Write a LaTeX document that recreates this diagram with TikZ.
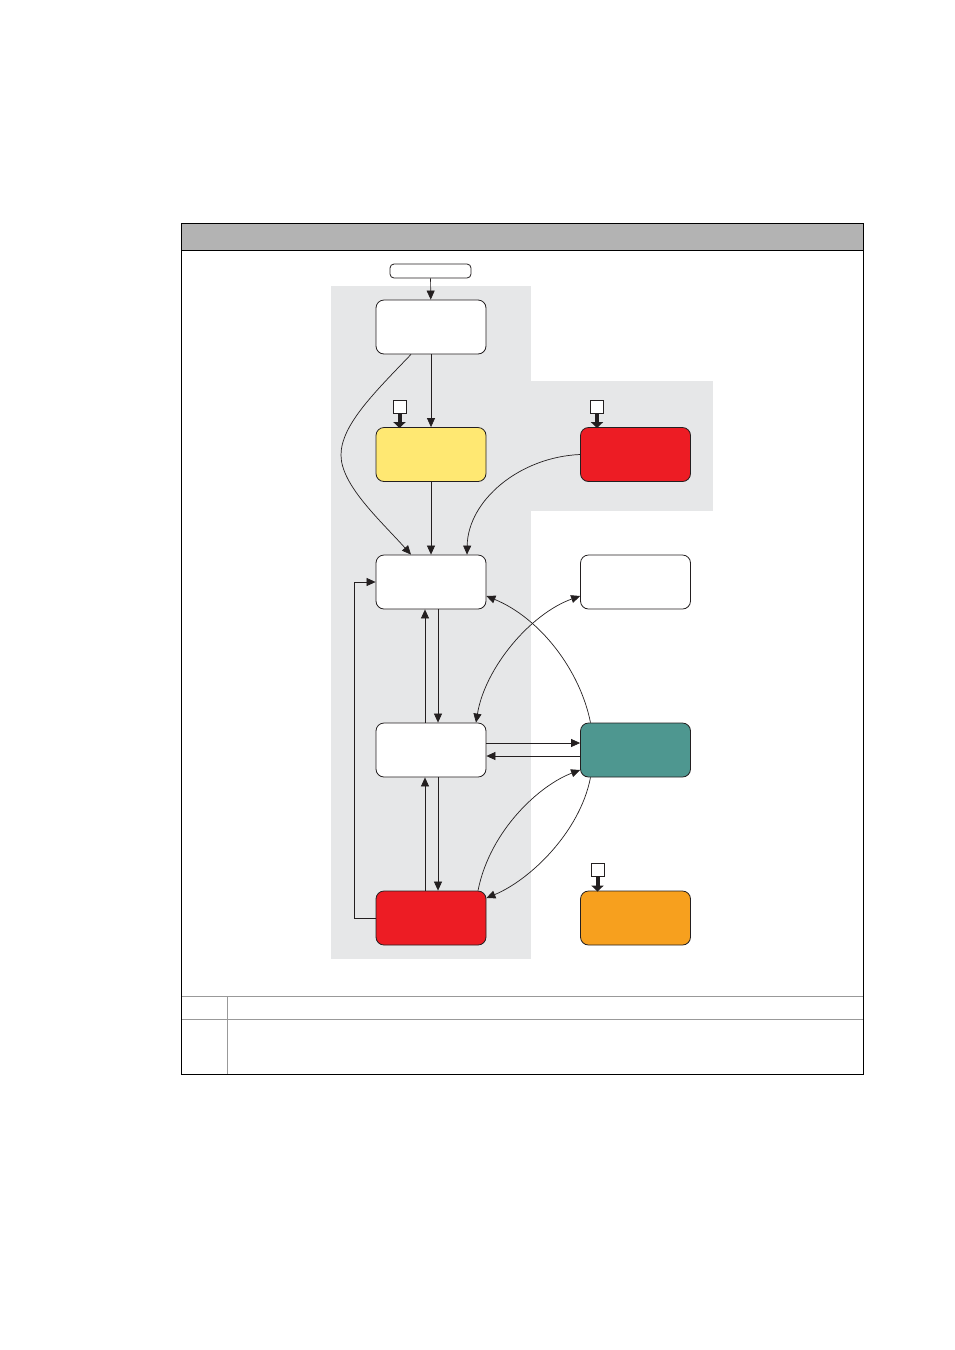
\documentclass[tikz,border=0pt]{standalone}
\usetikzlibrary{arrows.meta,calc}
\definecolor{zone}{HTML}{E6E7E8}
\definecolor{header}{HTML}{B3B3B3}
\definecolor{ylw}{HTML}{FFE872}
\definecolor{rd}{HTML}{ED1C24}
\definecolor{tl}{HTML}{4E9790}
\definecolor{org}{HTML}{F7A01E}
\definecolor{ink}{HTML}{231F20}
\tikzset{
  statebox/.style={draw=ink,line width=0.8pt,rounded corners=8pt,minimum width=110pt,minimum height=54pt,inner sep=0pt,fill=white},
  startbox/.style={draw=ink,line width=0.8pt,rounded corners=4pt,minimum width=81pt,minimum height=14pt,inner sep=0pt,fill=white},
  trig/.style={draw=ink,line width=0.8pt,minimum width=13pt,minimum height=13pt,inner sep=0pt,fill=white},
  conn/.style={draw=ink,line width=0.7pt,-{Triangle[length=9pt,width=8pt]}},
  conn2/.style={draw=ink,line width=0.7pt,{Triangle[length=9pt,width=8pt]}-{Triangle[length=9pt,width=8pt]}},
  fat/.style={draw=ink,line width=4pt,-{Triangle[length=6pt,width=12pt]},shorten >=-1pt},
  grid/.style={draw=gray!80,line width=0.8pt}
}
\begin{document}
\begin{tikzpicture}[x=1pt,y=-1pt]
\useasboundingbox (0,0) rectangle (954,1350);
% frame
\fill[header] (181,223) rectangle (863,250);
\fill[zone] (331,286) rectangle (531,959);
\fill[zone] (531,381) rectangle (713,511);
\draw[grid] (181,996) -- (863,996);
\draw[grid] (181,1019) -- (863,1019);
\draw[grid] (227,996) -- (227,1074);
\draw[black,line width=0.9pt] (181,250) -- (863,250);
\draw[black,line width=0.9pt] (181,223) rectangle (863,1074);
% nodes
\node[startbox] (S) at (430.5,271) {};
\node[statebox] (A) at (431,327) {};
\node[statebox,fill=ylw] (B) at (431,454.5) {};
\node[statebox,fill=rd] (C) at (635.5,454.5) {};
\node[statebox] (D) at (431,582) {};
\node[statebox] (E) at (635.5,582) {};
\node[statebox] (F) at (431,750) {};
\node[statebox,fill=tl] (G) at (635.5,750) {};
\node[statebox,fill=rd] (H) at (431,918) {};
\node[statebox,fill=org] (I) at (635.5,918) {};
\node[trig] (t1) at (399.5,406.5) {};
\node[trig] (t2) at (597,406.5) {};
\node[trig] (t3) at (597.5,869.5) {};
% trigger arrows
\draw[fat] (t1.south) -- (t1.south |- B.north);
\draw[fat] (t2.south) -- (t2.south |- C.north);
\draw[fat] (t3.south) -- (t3.south |- I.north);
% connectors
\draw[conn] (S) -- (A);
\draw[conn] (A) -- (B);
\draw[conn] (B) -- (D);
\draw[conn] ($(A.south)+(-20,0)$) .. controls (375,392) and (341,425) .. (341,455)
   .. controls (341,485) and (380,520) .. ($(D.north)+(-20,0)$);
\draw[conn] (C.west) .. controls (520,457) and (468,500) .. ($(D.north)+(36,0)$);
\draw[conn] ($(F.north)+(-6,0)$) -- ($(D.south)+(-6,0)$);
\draw[conn] ($(D.south)+(7,0)$) -- ($(F.north)+(7,0)$);
\draw[conn] ($(H.north)+(-6,0)$) -- ($(F.south)+(-6,0)$);
\draw[conn] ($(F.south)+(7,0)$) -- ($(H.north)+(7,0)$);
\draw[conn,rounded corners=0pt] (H.west) -- (354,918) -- (354,582) -- (D.west);
\draw[conn2] ($(E.west)+(0,14)$) .. controls (530,614) and (485,668) .. ($(F.north)+(45,0)$);
\draw[conn] ($(G.north)+(-45,0)$) .. controls (580,670) and (540,618) .. ($(D.east)+(0,14)$);
\draw[conn] ($(F.east)+(0,-7)$) -- ($(G.west)+(0,-7)$);
\draw[conn] ($(G.west)+(0,6)$) -- ($(F.east)+(0,6)$);
\draw[conn] ($(H.north)+(47,0)$) .. controls (490,830) and (540,785) .. ($(G.west)+(0,20)$);
\draw[conn] ($(G.south)+(-45,0)$) .. controls (580,832) and (530,880) .. ($(H.east)+(0,-20)$);
\end{tikzpicture}
\end{document}
